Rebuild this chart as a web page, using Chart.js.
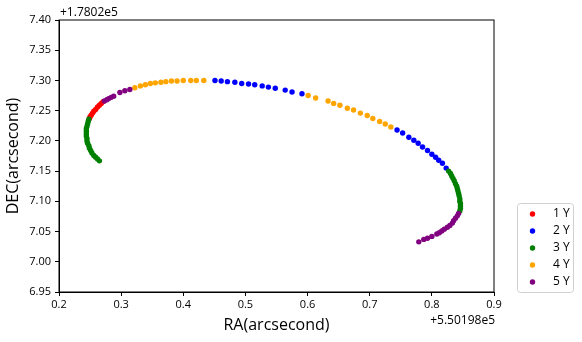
<!DOCTYPE html>
<html>
<head>
<meta charset="utf-8">
<script src="https://cdn.jsdelivr.net/npm/chart.js@4.4.0/dist/chart.umd.min.js"></script>
<style>
  html, body { margin: 0; padding: 0; background: #fff; }
  #wrap { width: 582px; height: 342px; }
</style>
</head>
<body>
<div id="wrap"><canvas id="myChart" width="582" height="342"></canvas></div>
<script>
// RA / DEC offsets (arcsecond) relative to +5.50198e5 and +1.7802e5
const year1 = [
  [0.271, 7.265], [0.268, 7.262], [0.265, 7.259], [0.262, 7.256], [0.259, 7.252],
  [0.256, 7.249], [0.254, 7.246], [0.252, 7.243], [0.250, 7.240], [0.249, 7.237]
];
const year2 = [
  [0.451, 7.300], [0.461, 7.299], [0.471, 7.298], [0.483, 7.297], [0.494, 7.295],
  [0.505, 7.294], [0.515, 7.293], [0.527, 7.291], [0.537, 7.289], [0.548, 7.287],
  [0.564, 7.284], [0.575, 7.281], [0.591, 7.278],
  [0.744, 7.218], [0.753, 7.213], [0.763, 7.206], [0.771, 7.201], [0.778, 7.196],
  [0.785, 7.190], [0.793, 7.184], [0.800, 7.178], [0.806, 7.173], [0.811, 7.168],
  [0.817, 7.163], [0.823, 7.155]
];
const year3 = [
  [0.248, 7.236], [0.247, 7.232], [0.246, 7.228], [0.245, 7.224], [0.244, 7.220],
  [0.244, 7.216], [0.244, 7.212], [0.244, 7.208], [0.245, 7.204], [0.245, 7.200],
  [0.246, 7.196], [0.248, 7.192], [0.249, 7.188], [0.251, 7.184], [0.253, 7.180],
  [0.256, 7.176], [0.259, 7.173], [0.262, 7.170], [0.265, 7.167],
  [0.827, 7.150], [0.830, 7.146], [0.832, 7.142], [0.834, 7.138], [0.836, 7.134],
  [0.838, 7.129], [0.840, 7.125], [0.841, 7.121], [0.842, 7.117], [0.843, 7.113],
  [0.844, 7.109], [0.845, 7.104], [0.845, 7.100], [0.846, 7.096], [0.846, 7.092],
  [0.846, 7.088], [0.845, 7.084]
];
const year4 = [
  [0.322, 7.288], [0.331, 7.291], [0.339, 7.293], [0.347, 7.295], [0.355, 7.296],
  [0.364, 7.297], [0.372, 7.298], [0.381, 7.299], [0.390, 7.299], [0.400, 7.300],
  [0.412, 7.300], [0.421, 7.300], [0.433, 7.300],
  [0.601, 7.275], [0.613, 7.271], [0.633, 7.266], [0.642, 7.262], [0.652, 7.259],
  [0.664, 7.254], [0.674, 7.251], [0.685, 7.246], [0.696, 7.242], [0.705, 7.237],
  [0.716, 7.232], [0.725, 7.228], [0.734, 7.223]
];
const year5 = [
  [0.273, 7.266], [0.277, 7.268], [0.280, 7.270], [0.284, 7.272], [0.288, 7.274],
  [0.298, 7.280], [0.306, 7.283], [0.314, 7.285],
  [0.843, 7.080], [0.841, 7.076], [0.838, 7.072], [0.835, 7.068], [0.833, 7.064],
  [0.829, 7.060], [0.825, 7.057], [0.820, 7.054], [0.816, 7.051], [0.812, 7.048],
  [0.808, 7.046], [0.800, 7.042], [0.793, 7.039], [0.787, 7.037], [0.779, 7.033]
];

const seriesNames = ['1 Y', '2 Y', '3 Y', '4 Y', '5 Y'];
const seriesColors = ['#ff0000', '#0000ff', '#008000', '#ffa500', '#800080'];
const seriesData = [year1, year2, year3, year4, year5];

const xTicks = [0.2, 0.3, 0.4, 0.5, 0.6, 0.7, 0.8, 0.9];
const yTicks = [6.95, 7.00, 7.05, 7.10, 7.15, 7.20, 7.25, 7.30, 7.35, 7.40];

const fontFamily = '"Open Sans", "Noto Sans", sans-serif';

const datasets = seriesData.map((pts, i) => ({
  label: seriesNames[i],
  data: pts.map(p => ({ x: p[0], y: p[1] })),
  backgroundColor: seriesColors[i],
  borderWidth: 0,
  pointRadius: 2.7,
  order: seriesData.length - i
}));

// frame, offset labels and boxed legend
const extras = {
  id: 'extras',
  afterDraw(chart) {
    const ctx = chart.ctx;
    const a = chart.chartArea;
    ctx.save();
    ctx.strokeStyle = '#000';
    ctx.lineWidth = 1;
    ctx.strokeRect(a.left, a.top, a.right - a.left, a.bottom - a.top);

    ctx.fillStyle = '#000';
    ctx.font = '12px ' + fontFamily;
    ctx.textBaseline = 'middle';
    ctx.textAlign = 'left';
    ctx.fillText('+1.7802e5', a.left + 1, 13);
    ctx.textAlign = 'right';
    ctx.fillText('+5.50198e5', a.right + 1, 321);

    // legend
    const lx = 517.5, ly = 203.5, lw = 56, lh = 89, r = 3;
    ctx.beginPath();
    ctx.moveTo(lx + r, ly);
    ctx.arcTo(lx + lw, ly, lx + lw, ly + lh, r);
    ctx.arcTo(lx + lw, ly + lh, lx, ly + lh, r);
    ctx.arcTo(lx, ly + lh, lx, ly, r);
    ctx.arcTo(lx, ly, lx + lw, ly, r);
    ctx.closePath();
    ctx.fillStyle = '#fff';
    ctx.fill();
    ctx.strokeStyle = '#d0d0d0';
    ctx.stroke();
    ctx.textAlign = 'left';
    seriesNames.forEach((name, i) => {
      const cy = 214 + i * 17;
      ctx.beginPath();
      ctx.arc(532.5, cy, 2.7, 0, Math.PI * 2);
      ctx.fillStyle = seriesColors[i];
      ctx.fill();
      ctx.fillStyle = '#000';
      ctx.fillText(name, 553, cy);
    });
    ctx.restore();
  }
};

const ctx = document.getElementById('myChart');
new Chart(ctx, {
  type: 'scatter',
  data: { datasets: datasets },
  options: {
    responsive: false,
    animation: false,
    layout: { padding: { top: 20, right: 88, left: 0, bottom: 0 } },
    plugins: {
      legend: { display: false },
      tooltip: { enabled: false }
    },
    scales: {
      x: {
        type: 'linear',
        min: 0.2,
        max: 0.9,
        afterFit: s => { s.height = 50; },
        afterBuildTicks: s => { s.ticks = xTicks.map(v => ({ value: v })); },
        ticks: {
          color: '#000',
          font: { family: fontFamily, size: 11 },
          padding: 2,
          maxRotation: 0,
          callback: v => v.toFixed(1)
        },
        grid: { drawOnChartArea: false, drawTicks: true, tickLength: 4, color: '#000' },
        border: { display: true, color: '#000' },
        title: {
          display: true,
          text: 'RA(arcsecond)',
          color: '#000',
          font: { family: fontFamily, size: 16 },
          padding: { top: 0, bottom: 7 }
        }
      },
      y: {
        type: 'linear',
        min: 6.95,
        max: 7.40,
        afterFit: s => { s.width = 59; },
        afterBuildTicks: s => { s.ticks = yTicks.map(v => ({ value: v })); },
        ticks: {
          color: '#000',
          font: { family: fontFamily, size: 11 },
          padding: 4,
          callback: v => v.toFixed(2)
        },
        grid: { drawOnChartArea: false, drawTicks: true, tickLength: 4, color: '#000' },
        border: { display: true, color: '#000' },
        title: {
          display: true,
          text: 'DEC(arcsecond)',
          color: '#000',
          font: { family: fontFamily, size: 16 },
          padding: { top: 4, bottom: 0 }
        }
      }
    }
  },
  plugins: [extras]
});
</script>
</body>
</html>
